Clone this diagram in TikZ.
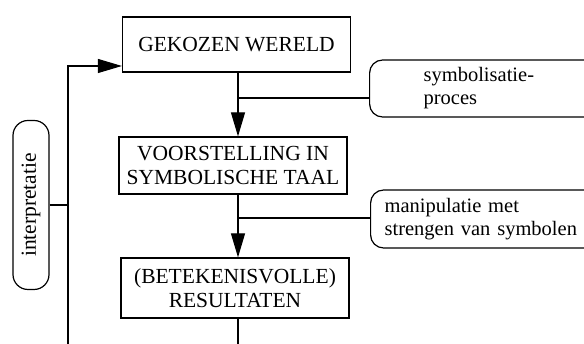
\documentclass[tikz,border=0pt]{standalone}
\usepackage{fontspec}
\setmainfont{Liberation Serif}
\usetikzlibrary{arrows.meta}
\begin{document}
\begin{tikzpicture}[x=1pt,y=1pt,
  txt/.style={font=\fontsize{21.5}{23.5}\selectfont},
  stxt/.style={font=\fontsize{20.5}{23}\selectfont},
  box/.style={draw, line width=1.2pt, minimum width=228pt, align=center, inner sep=0pt, txt},
  rbox/.style={draw, line width=1.2pt, rounded corners=13pt, align=left, inner ysep=0pt, stxt},
  conn/.style={line width=1.1pt},
  arr/.style={conn, -{Triangle[length=24pt,width=14pt]}}]
\useasboundingbox (0,0) rectangle (584,344);
\clip (0,0) rectangle (584,344);
\node[box, minimum height=55pt] (g) at (236.5,299.5) {GEKOZEN WERELD};
\node[box, minimum height=57pt] (v) at (233,178.5) {VOORSTELLING IN\\SYMBOLISCHE TAAL};
\node[box, minimum height=60pt] (r) at (235,56) {(BETEKENISVOLLE)\\RESULTATEN};
\node[rbox, anchor=west, inner xsep=54pt, text width=130pt, minimum height=57pt] (s) at (369,255.5) {symbolisatie-\\proces};
\node[rbox, anchor=west, inner xsep=14pt, text width=230pt, minimum height=58pt] (m) at (370,125) {manipulatie met\\strengen van symbolen};
\node[draw, line width=1.2pt, rounded corners=15pt, rotate=90, minimum width=169pt, minimum height=36pt, inner sep=0pt, txt] (i) at (31,139) {interpretatie};
\coordinate (lx) at (238,0);
\coordinate (b1) at (238,246);
\coordinate (b2) at (238,126);
\coordinate (bot1) at (238,0);
\coordinate (bot2) at (68,0);
\coordinate (ret) at (68,278);
\draw[arr] (g.south -| lx) -- (v.north -| lx);
\draw[conn] (b1) -- (b1 -| s.west);
\draw[arr] (v.south -| lx) -- (r.north -| lx);
\draw[conn] (b2) -- (b2 -| m.west);
\draw[conn] (r.south -| lx) -- (bot1);
\draw[arr] (bot2) -- (ret) -- (ret -| g.west);
\draw[conn] (i.south) -- (i.south -| bot2);
\end{tikzpicture}
\end{document}
